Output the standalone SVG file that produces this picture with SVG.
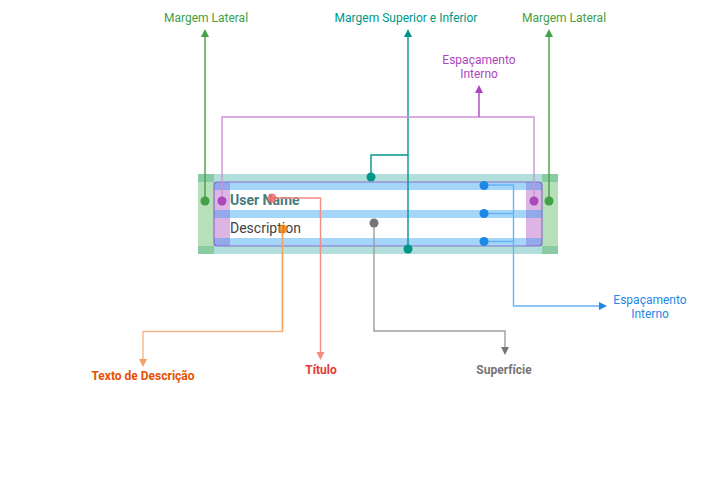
<svg xmlns="http://www.w3.org/2000/svg" width="704" height="500" viewBox="0 0 704 500">
<style>
.lbl{font-family:Roboto,"Liberation Sans",sans-serif;font-size:12px;text-anchor:middle}
.b{font-weight:bold}
.ln{fill:none;stroke-width:1.4}
</style>
<rect width="704" height="500" fill="#fff"/>
<g id="card">
  <rect x="214" y="182" width="328" height="64" rx="3" fill="#fff"/>
  <rect x="198" y="174" width="360" height="8" fill="#009688" fill-opacity="0.3"/>
  <rect x="198" y="246" width="360" height="8" fill="#009688" fill-opacity="0.3"/>
  <rect x="198" y="174" width="16" height="80" fill="#4caf50" fill-opacity="0.4"/>
  <rect x="542" y="174" width="16" height="80" fill="#4caf50" fill-opacity="0.4"/>
  <rect x="214" y="182" width="16" height="64" fill="#ab47bc" fill-opacity="0.4"/>
  <rect x="526" y="182" width="16" height="64" fill="#ab47bc" fill-opacity="0.4"/>
  <rect x="214" y="182" width="328" height="8" fill="#2196f3" fill-opacity="0.4"/>
  <rect x="214" y="210" width="328" height="8" fill="#2196f3" fill-opacity="0.4"/>
  <rect x="214" y="238" width="328" height="8" fill="#2196f3" fill-opacity="0.4"/>
  <rect x="214" y="182" width="328" height="64" rx="3" fill="none" stroke="#7e57c2" stroke-opacity="0.8" stroke-width="1.2"/>
  <text x="230" y="205" font-family="Roboto,'Liberation Sans',sans-serif" font-size="14" font-weight="bold" fill="#457a80">User Name</text>
  <text x="230" y="233" font-family="Roboto,'Liberation Sans',sans-serif" font-size="14" fill="#424242">Description</text>
</g>
<g id="connectors">
  <path class="ln" d="M205,201 V36" stroke="#43a047"/>
  <path d="M201,37 L205,29 L209,37 Z" fill="#43a047"/>
  <path class="ln" d="M549,201 V36" stroke="#43a047"/>
  <path d="M545,37 L549,29 L553,37 Z" fill="#43a047"/>
  <path class="ln" d="M408,249 V36" stroke="#009688"/>
  <path d="M404,37 L408,29 L412,37 Z" fill="#009688"/>
  <path class="ln" d="M371,177 V155 H408" stroke="#009688"/>
  <path class="ln" d="M222,201 V117 H534 V201" stroke="#ce93d8"/>
  <path class="ln" d="M479,117 V92" stroke="#ab47bc"/>
  <path d="M475,93 L479,85 L483,93 Z" fill="#ab47bc"/>
  <path class="ln" d="M484,185 H513.5 V306 H600 M484,213.5 H513.5 M484,241.5 H513.5" stroke="#64b5f6"/>
  <path d="M599,302 L607,306 L599,310 Z" fill="#1e88e5"/>
  <path class="ln" d="M374,223 V331 H505 V348" stroke="#9e9e9e"/>
  <path d="M501,347 L505,355 L509,347 Z" fill="#757575"/>
  <path class="ln" d="M272,198 H320.5 V353" stroke="#f28b82"/>
  <path d="M316.5,352 L320.5,360 L324.5,352 Z" fill="#f28b82"/>
  <path class="ln" d="M282.5,229 V331.5 H143 V359" stroke="#f7b48a"/>
  <path class="ln" d="M282.5,229 V331.5" stroke="#f4a261"/>
  <path d="M139,359 L143,367 L147,359 Z" fill="#f4a06a"/>
</g>
<g id="dots">
  <circle cx="205" cy="201" r="4.5" fill="#43a047"/>
  <circle cx="549" cy="201" r="4.5" fill="#43a047"/>
  <circle cx="222" cy="201" r="4.5" fill="#ab47bc"/>
  <circle cx="534" cy="201" r="4.5" fill="#ab47bc"/>
  <circle cx="371" cy="177" r="4.5" fill="#009688"/>
  <circle cx="408" cy="249" r="4.5" fill="#009688"/>
  <circle cx="484" cy="185.5" r="4.5" fill="#1e88e5"/>
  <circle cx="484" cy="213.5" r="4.5" fill="#1e88e5"/>
  <circle cx="484" cy="241.5" r="4.5" fill="#1e88e5"/>
  <circle cx="374" cy="223" r="4.5" fill="#757575"/>
  <circle cx="272" cy="198" r="4.5" fill="#ef6c6c" fill-opacity="0.85"/>
  <circle cx="283" cy="229" r="4.5" fill="#f57c00" fill-opacity="0.75"/>
</g>
<g id="labels">
  <text class="lbl" x="206" y="22" fill="#43a047">Margem Lateral</text>
  <text class="lbl" x="406" y="22" fill="#009688">Margem Superior e Inferior</text>
  <text class="lbl" x="564" y="22" fill="#43a047">Margem Lateral</text>
  <text class="lbl" x="479" y="64" fill="#ab47bc">Espaçamento</text>
  <text class="lbl" x="479" y="78" fill="#ab47bc">Interno</text>
  <text class="lbl" x="650" y="304" fill="#1e88e5">Espaçamento</text>
  <text class="lbl" x="650" y="318" fill="#1e88e5">Interno</text>
  <text class="lbl b" x="143" y="380" fill="#e65100">Texto de Descrição</text>
  <text class="lbl b" x="321" y="374" fill="#e53935">Título</text>
  <text class="lbl b" x="504" y="374" fill="#757575">Superfície</text>
</g>
</svg>
